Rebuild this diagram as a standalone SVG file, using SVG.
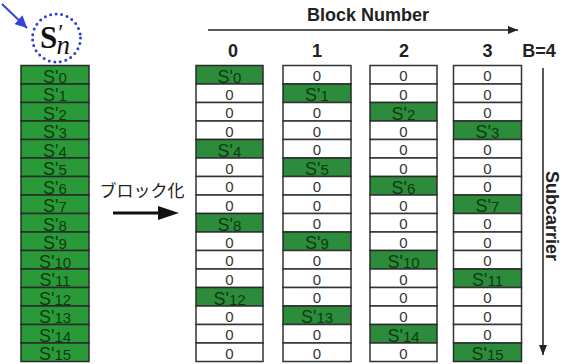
<svg xmlns="http://www.w3.org/2000/svg" width="563" height="364" viewBox="0 0 563 364">
<style>
.g1{fill:#2a9a38;stroke:#2a2a2a;stroke-width:1.5}
.g2{fill:#2c8c3b;stroke:#2a2a2a;stroke-width:1.5}
.w{fill:#ffffff;stroke:#333333;stroke-width:1.5}
.s{font-family:"Liberation Sans",Arial,sans-serif;font-size:18px;fill:#0d3a12;text-anchor:middle}
.s .d{font-size:15px}
.z{font-family:"Liberation Sans",Arial,sans-serif;font-size:15px;fill:#333333;text-anchor:middle}
.h{font-family:"Liberation Sans",Arial,sans-serif;font-size:18px;font-weight:bold;fill:#222222;text-anchor:middle}
.ln{stroke:#222222;fill:none}
</style>
<defs>
<marker id="ah" viewBox="0 0 10 10" refX="10" refY="5" markerWidth="10" markerHeight="10" markerUnits="userSpaceOnUse" orient="auto"><path d="M0,1 L10,5 L0,9 Z" fill="#222222"/></marker>
<marker id="ahb" viewBox="0 0 10 10" refX="10" refY="5" markerWidth="12" markerHeight="12" markerUnits="userSpaceOnUse" orient="auto"><path d="M0,0 L10,5 L0,10 Z" fill="#3344dd"/></marker>
</defs>

<g id="symbol">
<circle cx="56.5" cy="38" r="24" fill="none" stroke="#2b3fd6" stroke-width="3" stroke-dasharray="0 5.6" stroke-linecap="round"/>
<text x="40" y="48" font-family="'Liberation Serif','DejaVu Serif',serif" font-size="31" font-weight="bold" fill="#111111">S<tspan font-size="24" font-weight="normal" dx="1" dy="-8">′</tspan><tspan font-size="27" font-weight="normal" font-style="italic" dx="-7" dy="14">n</tspan></text>
</g>

<g id="source">
<rect class="g1" x="21" y="65.5" width="68" height="18.5"/><text class="s" x="55" y="82.5">S'<tspan class="d">0</tspan></text>
<rect class="g1" x="21" y="84" width="68" height="18.5"/><text class="s" x="55" y="101">S'<tspan class="d">1</tspan></text>
<rect class="g1" x="21" y="102.5" width="68" height="18.5"/><text class="s" x="55" y="119.5">S'<tspan class="d">2</tspan></text>
<rect class="g1" x="21" y="121" width="68" height="18.5"/><text class="s" x="55" y="138">S'<tspan class="d">3</tspan></text>
<rect class="g1" x="21" y="139.5" width="68" height="18.5"/><text class="s" x="55" y="156.5">S'<tspan class="d">4</tspan></text>
<rect class="g1" x="21" y="158" width="68" height="18.5"/><text class="s" x="55" y="175">S'<tspan class="d">5</tspan></text>
<rect class="g1" x="21" y="176.5" width="68" height="18.5"/><text class="s" x="55" y="193.5">S'<tspan class="d">6</tspan></text>
<rect class="g1" x="21" y="195" width="68" height="18.5"/><text class="s" x="55" y="212">S'<tspan class="d">7</tspan></text>
<rect class="g1" x="21" y="213.5" width="68" height="18.5"/><text class="s" x="55" y="230.5">S'<tspan class="d">8</tspan></text>
<rect class="g1" x="21" y="232" width="68" height="18.5"/><text class="s" x="55" y="249">S'<tspan class="d">9</tspan></text>
<rect class="g1" x="21" y="250.5" width="68" height="18.5"/><text class="s" x="55" y="267.5">S'<tspan class="d">10</tspan></text>
<rect class="g1" x="21" y="269" width="68" height="18.5"/><text class="s" x="55" y="286">S'<tspan class="d">11</tspan></text>
<rect class="g1" x="21" y="287.5" width="68" height="18.5"/><text class="s" x="55" y="304.5">S'<tspan class="d">12</tspan></text>
<rect class="g1" x="21" y="306" width="68" height="18.5"/><text class="s" x="55" y="323">S'<tspan class="d">13</tspan></text>
<rect class="g1" x="21" y="324.5" width="68" height="18.5"/><text class="s" x="55" y="341.5">S'<tspan class="d">14</tspan></text>
<rect class="g1" x="21" y="343" width="68" height="18.5"/><text class="s" x="55" y="360">S'<tspan class="d">15</tspan></text>
</g>

<g id="block0">
<text class="h" x="233" y="57" font-size="19">0</text>
<rect class="g2" x="196" y="65.5" width="67" height="18.5"/><text class="s" x="229.5" y="82.5">S'<tspan class="d">0</tspan></text>
<rect class="w" x="196" y="84" width="67" height="18.5"/><text class="z" x="229.5" y="99.5">0</text>
<rect class="w" x="196" y="102.5" width="67" height="18.5"/><text class="z" x="229.5" y="118">0</text>
<rect class="w" x="196" y="121" width="67" height="18.5"/><text class="z" x="229.5" y="136.5">0</text>
<rect class="g2" x="196" y="139.5" width="67" height="18.5"/><text class="s" x="229.5" y="156.5">S'<tspan class="d">4</tspan></text>
<rect class="w" x="196" y="158" width="67" height="18.5"/><text class="z" x="229.5" y="173.5">0</text>
<rect class="w" x="196" y="176.5" width="67" height="18.5"/><text class="z" x="229.5" y="192">0</text>
<rect class="w" x="196" y="195" width="67" height="18.5"/><text class="z" x="229.5" y="210.5">0</text>
<rect class="g2" x="196" y="213.5" width="67" height="18.5"/><text class="s" x="229.5" y="230.5">S'<tspan class="d">8</tspan></text>
<rect class="w" x="196" y="232" width="67" height="18.5"/><text class="z" x="229.5" y="247.5">0</text>
<rect class="w" x="196" y="250.5" width="67" height="18.5"/><text class="z" x="229.5" y="266">0</text>
<rect class="w" x="196" y="269" width="67" height="18.5"/><text class="z" x="229.5" y="284.5">0</text>
<rect class="g2" x="196" y="287.5" width="67" height="18.5"/><text class="s" x="229.5" y="304.5">S'<tspan class="d">12</tspan></text>
<rect class="w" x="196" y="306" width="67" height="18.5"/><text class="z" x="229.5" y="321.5">0</text>
<rect class="w" x="196" y="324.5" width="67" height="18.5"/><text class="z" x="229.5" y="340">0</text>
<rect class="w" x="196" y="343" width="67" height="18.5"/><text class="z" x="229.5" y="358.5">0</text>
</g>

<g id="block1">
<text class="h" x="317" y="57" font-size="19">1</text>
<rect class="w" x="283" y="65.5" width="68" height="18.5"/><text class="z" x="317" y="81">0</text>
<rect class="g2" x="283" y="84" width="68" height="18.5"/><text class="s" x="317" y="101">S'<tspan class="d">1</tspan></text>
<rect class="w" x="283" y="102.5" width="68" height="18.5"/><text class="z" x="317" y="118">0</text>
<rect class="w" x="283" y="121" width="68" height="18.5"/><text class="z" x="317" y="136.5">0</text>
<rect class="w" x="283" y="139.5" width="68" height="18.5"/><text class="z" x="317" y="155">0</text>
<rect class="g2" x="283" y="158" width="68" height="18.5"/><text class="s" x="317" y="175">S'<tspan class="d">5</tspan></text>
<rect class="w" x="283" y="176.5" width="68" height="18.5"/><text class="z" x="317" y="192">0</text>
<rect class="w" x="283" y="195" width="68" height="18.5"/><text class="z" x="317" y="210.5">0</text>
<rect class="w" x="283" y="213.5" width="68" height="18.5"/><text class="z" x="317" y="229">0</text>
<rect class="g2" x="283" y="232" width="68" height="18.5"/><text class="s" x="317" y="249">S'<tspan class="d">9</tspan></text>
<rect class="w" x="283" y="250.5" width="68" height="18.5"/><text class="z" x="317" y="266">0</text>
<rect class="w" x="283" y="269" width="68" height="18.5"/><text class="z" x="317" y="284.5">0</text>
<rect class="w" x="283" y="287.5" width="68" height="18.5"/><text class="z" x="317" y="303">0</text>
<rect class="g2" x="283" y="306" width="68" height="18.5"/><text class="s" x="317" y="323">S'<tspan class="d">13</tspan></text>
<rect class="w" x="283" y="324.5" width="68" height="18.5"/><text class="z" x="317" y="340">0</text>
<rect class="w" x="283" y="343" width="68" height="18.5"/><text class="z" x="317" y="358.5">0</text>
</g>

<g id="block2">
<text class="h" x="404" y="57" font-size="19">2</text>
<rect class="w" x="370" y="65.5" width="67" height="18.5"/><text class="z" x="403.5" y="81">0</text>
<rect class="w" x="370" y="84" width="67" height="18.5"/><text class="z" x="403.5" y="99.5">0</text>
<rect class="g2" x="370" y="102.5" width="67" height="18.5"/><text class="s" x="403.5" y="119.5">S'<tspan class="d">2</tspan></text>
<rect class="w" x="370" y="121" width="67" height="18.5"/><text class="z" x="403.5" y="136.5">0</text>
<rect class="w" x="370" y="139.5" width="67" height="18.5"/><text class="z" x="403.5" y="155">0</text>
<rect class="w" x="370" y="158" width="67" height="18.5"/><text class="z" x="403.5" y="173.5">0</text>
<rect class="g2" x="370" y="176.5" width="67" height="18.5"/><text class="s" x="403.5" y="193.5">S'<tspan class="d">6</tspan></text>
<rect class="w" x="370" y="195" width="67" height="18.5"/><text class="z" x="403.5" y="210.5">0</text>
<rect class="w" x="370" y="213.5" width="67" height="18.5"/><text class="z" x="403.5" y="229">0</text>
<rect class="w" x="370" y="232" width="67" height="18.5"/><text class="z" x="403.5" y="247.5">0</text>
<rect class="g2" x="370" y="250.5" width="67" height="18.5"/><text class="s" x="403.5" y="267.5">S'<tspan class="d">10</tspan></text>
<rect class="w" x="370" y="269" width="67" height="18.5"/><text class="z" x="403.5" y="284.5">0</text>
<rect class="w" x="370" y="287.5" width="67" height="18.5"/><text class="z" x="403.5" y="303">0</text>
<rect class="w" x="370" y="306" width="67" height="18.5"/><text class="z" x="403.5" y="321.5">0</text>
<rect class="g2" x="370" y="324.5" width="67" height="18.5"/><text class="s" x="403.5" y="341.5">S'<tspan class="d">14</tspan></text>
<rect class="w" x="370" y="343" width="67" height="18.5"/><text class="z" x="403.5" y="358.5">0</text>
</g>

<g id="block3">
<text class="h" x="487.5" y="57" font-size="19">3</text>
<rect class="w" x="453.5" y="65.5" width="68" height="18.5"/><text class="z" x="487.5" y="81">0</text>
<rect class="w" x="453.5" y="84" width="68" height="18.5"/><text class="z" x="487.5" y="99.5">0</text>
<rect class="w" x="453.5" y="102.5" width="68" height="18.5"/><text class="z" x="487.5" y="118">0</text>
<rect class="g2" x="453.5" y="121" width="68" height="18.5"/><text class="s" x="487.5" y="138">S'<tspan class="d">3</tspan></text>
<rect class="w" x="453.5" y="139.5" width="68" height="18.5"/><text class="z" x="487.5" y="155">0</text>
<rect class="w" x="453.5" y="158" width="68" height="18.5"/><text class="z" x="487.5" y="173.5">0</text>
<rect class="w" x="453.5" y="176.5" width="68" height="18.5"/><text class="z" x="487.5" y="192">0</text>
<rect class="g2" x="453.5" y="195" width="68" height="18.5"/><text class="s" x="487.5" y="212">S'<tspan class="d">7</tspan></text>
<rect class="w" x="453.5" y="213.5" width="68" height="18.5"/><text class="z" x="487.5" y="229">0</text>
<rect class="w" x="453.5" y="232" width="68" height="18.5"/><text class="z" x="487.5" y="247.5">0</text>
<rect class="w" x="453.5" y="250.5" width="68" height="18.5"/><text class="z" x="487.5" y="266">0</text>
<rect class="g2" x="453.5" y="269" width="68" height="18.5"/><text class="s" x="487.5" y="286">S'<tspan class="d">11</tspan></text>
<rect class="w" x="453.5" y="287.5" width="68" height="18.5"/><text class="z" x="487.5" y="303">0</text>
<rect class="w" x="453.5" y="306" width="68" height="18.5"/><text class="z" x="487.5" y="321.5">0</text>
<rect class="w" x="453.5" y="324.5" width="68" height="18.5"/><text class="z" x="487.5" y="340">0</text>
<rect class="g2" x="453.5" y="343" width="68" height="18.5"/><text class="s" x="487.5" y="360">S'<tspan class="d">15</tspan></text>
</g>

<g id="labels">
<text class="h" x="368" y="21">Block Number</text>
<text class="h" x="539" y="57">B=4</text>
<text class="h" x="0" y="0" font-size="17" text-anchor="middle" transform="translate(546,216) rotate(90)">Subcarrier</text>
<text x="142" y="197" font-family="'Noto Sans CJK JP','Noto Sans CJK SC',sans-serif" font-size="17" fill="#222222" text-anchor="middle">ブロック化</text>
</g>

<g id="connectors">
<line class="ln" x1="208" y1="30" x2="518" y2="30" stroke-width="1.5" marker-end="url(#ah)"/>
<line class="ln" x1="543" y1="68" x2="543" y2="355" stroke-width="1.5" marker-end="url(#ah)"/>
<line x1="2" y1="4" x2="27" y2="28" stroke="#3344dd" stroke-width="2" marker-end="url(#ahb)"/>
<line x1="113" y1="213" x2="162" y2="213" stroke="#111111" stroke-width="3"/>
<path d="M158,206 L179,213 L158,220 Z" fill="#111111"/>
</g>
</svg>
